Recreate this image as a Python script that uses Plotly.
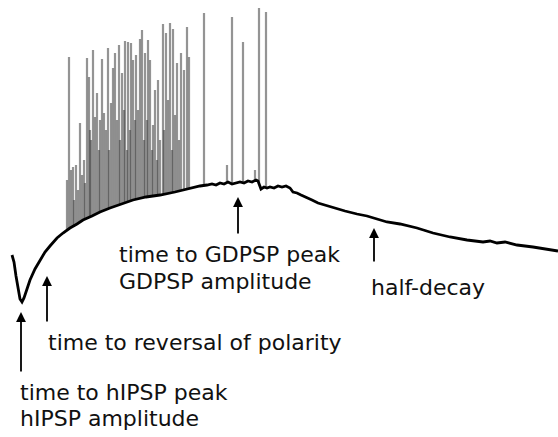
import numpy as np
import plotly.graph_objects as go

# Baseline membrane trace (time a.u., level a.u. – larger = more hyperpolarised)
base_t = [12, 14, 16, 18, 20, 22, 24, 27, 30, 35, 40, 45, 50, 57, 63, 70, 77, 83,
          92, 100, 110, 121, 133, 146, 160, 175, 190, 200, 207, 212, 216, 220, 224,
          228, 232, 236, 240, 244, 248, 252, 256, 258, 261, 264, 267, 270, 274, 278,
          282, 286, 290, 293, 297, 301, 306, 312, 318, 325, 333, 345, 357, 367, 377,
          387, 400, 417, 433, 450, 467, 483, 490, 497, 505, 517, 533, 545, 558]
base_v = [255, 262, 276, 290, 299, 302, 298, 289, 280, 269, 260, 252, 246, 238, 233,
          228, 224, 220, 216, 212, 208, 204, 200, 197, 195, 192, 188, 186, 185, 184,
          185, 183, 184, 182, 184, 183, 182, 183, 181, 182, 180, 181, 189, 187, 188,
          187, 188, 186, 187, 186, 188, 192, 193, 195, 197, 200, 203, 205, 208, 211,
          214, 216, 219, 222, 224, 228, 233, 237, 240, 242, 241, 243, 242, 245, 247,
          249, 251]

# Action potentials riding on the GDPSP: time and peak level
spike_t = [67, 69, 71, 73, 74, 76, 78, 80, 82, 84, 85, 87, 89, 90, 91, 93, 95, 97,
           99, 100, 102, 104, 106, 108, 109, 111, 113, 115, 117, 119, 120, 122, 124,
           125, 127, 128, 130, 131, 133, 135, 136, 138, 140, 142, 144, 145, 147, 148,
           150, 152, 153, 155, 157, 158, 160, 163, 164, 166, 168, 170, 172, 173, 175,
           177, 179, 181, 184, 187, 189, 204, 227, 232, 243, 255, 259, 266]
spike_v = [180, 57, 170, 167, 200, 165, 190, 123, 175, 160, 183, 58, 77, 130, 140,
           50, 117, 93, 150, 120, 59, 113, 130, 48, 150, 103, 68, 53, 120, 45, 140,
           73, 110, 41, 150, 42, 130, 43, 60, 120, 55, 110, 39, 30, 140, 53, 120, 40,
           60, 150, 125, 90, 160, 80, 140, 24, 130, 33, 100, 23, 150, 29, 115, 63,
           140, 53, 70, 27, 57, 13, 165, 17, 42, 170, 8, 12]

# Arrows: x position, tip level, tail level
arrow_t = [21, 47, 238, 374]
arrow_tip = [312, 276, 197, 228]
arrow_tail = [373, 323, 235, 263]

# Labels: x, y, text
label_t = [18, 18, 46, 117, 117, 369]
label_v = [392, 418, 342, 254, 281, 287]
label_txt = ["time to hIPSP peak", "hIPSP amplitude", "time to reversal of polarity",
             "time to GDPSP peak", "GDPSP amplitude", "half-decay"]

fig = go.Figure()

sx, sy = [], []
for t, v in zip(spike_t, spike_v):
    b = float(np.interp(t, base_t, base_v))
    sx += [t, t, None]
    sy += [b, v, None]
fig.add_trace(go.Scatter(x=sx, y=sy, mode="lines",
                         line=dict(color="rgba(60,60,60,0.55)", width=2.2),
                         hoverinfo="skip", showlegend=False))
fig.add_trace(go.Scatter(x=base_t, y=base_v, mode="lines",
                         line=dict(color="black", width=2.8),
                         hoverinfo="skip", showlegend=False))

for t, tip, tail in zip(arrow_t, arrow_tip, arrow_tail):
    fig.add_annotation(x=t, y=tip, ax=t, ay=tail, xref="x", yref="y",
                       axref="x", ayref="y", showarrow=True, arrowhead=2,
                       arrowsize=1.1, arrowwidth=1.8, arrowcolor="black", text="")

for t, v, s in zip(label_t, label_v, label_txt):
    fig.add_annotation(x=t, y=v, xref="x", yref="y", text=s, showarrow=False,
                       xanchor="left", yanchor="middle",
                       font=dict(family="DejaVu Sans", size=22, color="#111"))

fig.update_xaxes(range=[0, 558], visible=False)
fig.update_yaxes(range=[437, 0], visible=False)
fig.update_layout(width=558, height=437, margin=dict(l=0, r=0, t=0, b=0),
                  plot_bgcolor="white", paper_bgcolor="white")
fig.write_html("out.html", config={"displayModeBar": False},
               post_script="document.body.style.margin='0';")
